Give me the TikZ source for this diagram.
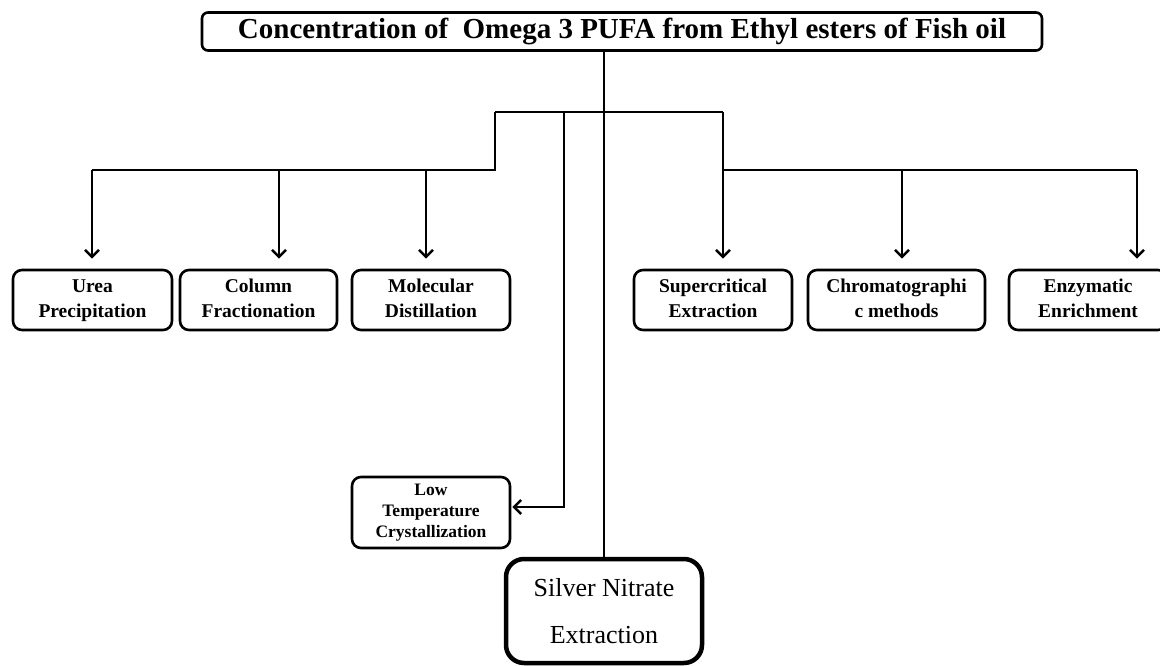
\documentclass[tikz,border=0pt]{standalone}
\usepackage{fontspec}
\setmainfont{Liberation Serif}
\usetikzlibrary{arrows.meta}
\begin{document}
\begin{tikzpicture}[x=1pt,y=-1pt,
  box/.style={draw, line width=2.6pt, rounded corners=9pt, align=center,
    font=\bfseries\fontsize{19.5}{25}\selectfont, inner sep=0pt,
    minimum height=60pt},
  link/.style={line width=2.6pt},
  tip/.style={-{Straight Barb[length=7pt,width=14pt,line width=2.6pt]}},
  arr/.style={link, tip, shorten >=10pt}
]
\useasboundingbox (0,0) rectangle (1160,665);

% title
\node[draw, line width=2.6pt, rounded corners=6pt, inner sep=0pt,
  minimum width=840pt, minimum height=38pt,
  font=\bfseries\fontsize{29}{32}\selectfont] (title) at (622,31.5)
  {Concentration of \ Omega 3 PUFA from Ethyl esters of Fish oil};

% method boxes
\node[box, minimum width=159pt] (urea) at (92.5,300) {\strut Urea\\\strut Precipitation};
\node[box, minimum width=157pt] (column) at (258.5,300) {\strut Column\\\strut Fractionation};
\node[box, minimum width=158pt] (molec) at (431,300) {\strut Molecular\\\strut Distillation};
\node[box, minimum width=158pt] (super) at (713,300) {\strut Supercritical\\\strut Extraction};
\node[box, minimum width=177pt] (chrom) at (896.5,300) {\strut Chromatographi\\\strut c methods};
\node[box, minimum width=158pt] (enzym) at (1088,300) {\strut Enzymatic\\\strut Enrichment};
\node[box, minimum width=158pt, minimum height=71pt,
  font=\bfseries\fontsize{17.5}{21}\selectfont] (ltc) at (431,512.5)
  {\strut Low\\\strut Temperature\\\strut Crystallization};
\node[draw, line width=4.5pt, rounded corners=18pt, inner sep=0pt,
  minimum width=196pt, minimum height=104pt, align=center,
  font=\fontsize{26}{47}\selectfont] (silver) at (604,611)
  {Silver Nitrate\\Extraction};

% junction points
\coordinate (top) at (604,50);
\coordinate (bl) at (495,112);
\coordinate (bm) at (564,112);
\coordinate (br) at (723,112);
\coordinate (ll) at (495,170);
\coordinate (rl) at (723,170);
\coordinate (ua) at (92,170);
\coordinate (ca) at (279,170);
\coordinate (ma) at (426,170);
\coordinate (xa) at (902,170);
\coordinate (ea) at (1137,170);
\coordinate (lt) at (564,507);

% trunk
\draw[link] (top |- title.south) -- (silver.north);
\draw[link] (bl) -- (br);
\draw[link] (bl) -- (ll) -- (ua);
\draw[link] (rl) -- (ea);

% arrows to the methods
\draw[arr] (ua) -- (ua |- urea.north);
\draw[arr] (ca) -- (ca |- column.north);
\draw[arr] (ma) -- (ma |- molec.north);
\draw[arr] (br) -- (br |- super.north);
\draw[arr] (xa) -- (xa |- chrom.north);
\draw[arr] (ea) -- (ea |- enzym.north);
\draw[link, tip, shorten >=1pt] (bm) -- (lt) -- (lt -| ltc.east);
\end{tikzpicture}
\end{document}
